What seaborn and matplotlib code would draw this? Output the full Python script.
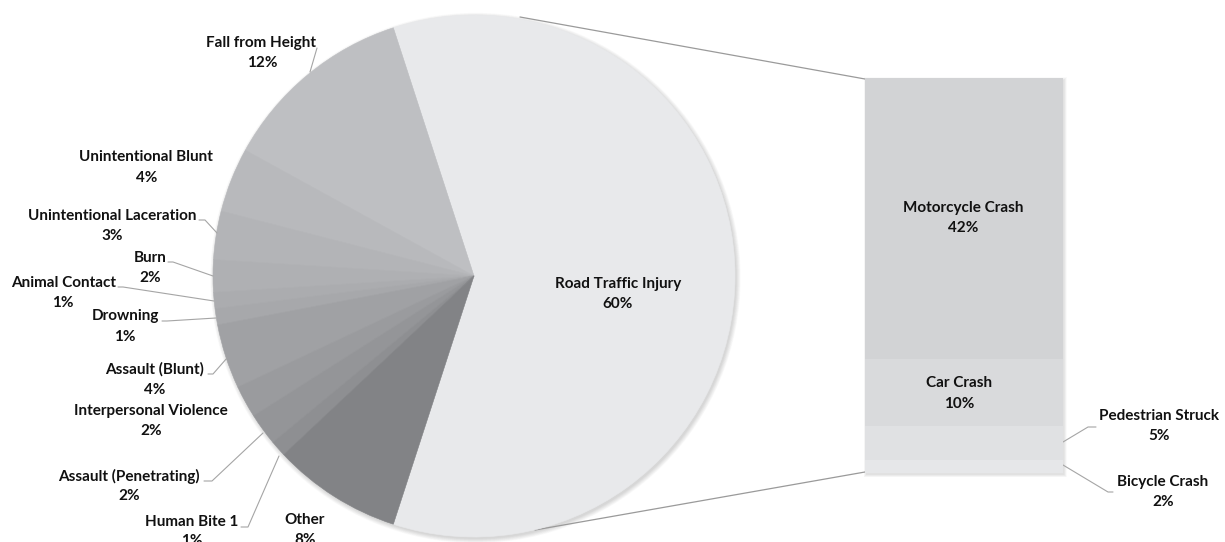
import numpy as np
import pandas as pd
import matplotlib
matplotlib.use("Agg")
import matplotlib.pyplot as plt
import seaborn as sns
from matplotlib.patches import Circle, Rectangle

# ---------------- data ----------------
pie_labels = ["Road Traffic Injury", "Fall from Height", "Unintentional Blunt",
              "Unintentional Laceration", "Burn", "Animal Contact", "Drowning",
              "Assault (Blunt)", "Interpersonal Violence", "Assault (Penetrating)",
              "Human Bite 1", "Other"]
pie_values = [60, 12, 4, 3, 2, 1, 1, 4, 2, 2, 1, 8]
pie_colors = ["#E8E9EB", "#BEBFC2", "#B8B9BC", "#B3B4B7", "#AFB0B3", "#ABACAF",
              "#A7A8AB", "#A0A1A4", "#9A9B9E", "#949598", "#8E8F92", "#828386"]

bar_labels = ["Motorcycle Crash", "Car Crash", "Pedestrian Struck", "Bicycle Crash"]
bar_values = [42, 10, 5, 2]
bar_colors = ["#D2D3D5", "#D9DADC", "#E0E1E3", "#E6E7E9"]

# ---------------- style ----------------
sns.set_theme(style="white")
plt.rcParams['font.family'] = ['Lato', 'DejaVu Sans']

W, H = 1225, 542
fig = plt.figure(figsize=(W / 100, H / 100), dpi=100)
fig.patch.set_facecolor("white")
ax = fig.add_axes([0, 0, 1, 1])


def Y(y):
    return H - y


TXT = "#111111"
LINE = "#A5A5A5"
FS = 11

# ---------------- pie ----------------
cx, cy, r = 474, 276, 261
# soft shadow
for i in range(8):
    ax.add_patch(Circle((cx + 1.5, Y(cy) - 2.0), r + 0.6 * i, color="black",
                        alpha=0.018, lw=0, zorder=0))
wedges, _ = ax.pie(pie_values, colors=pie_colors, startangle=-108, counterclock=True,
                   center=(cx, Y(cy)), radius=r,
                   wedgeprops=dict(linewidth=0.4, antialiased=True))
for w, c in zip(wedges, pie_colors):
    w.set_edgecolor(c)
    w.set_zorder(2)

ax.set_xlim(0, W)
ax.set_ylim(0, H)
ax.set_aspect("auto")
ax.axis("off")

# connector lines pie -> bar
ax.plot([520, 865], [Y(17), Y(79)], color="#9A9A9A", lw=0.9, zorder=1)
ax.plot([535, 865], [Y(530), Y(472)], color="#9A9A9A", lw=0.9, zorder=1)

# pie labels: (name_x, name_y, pct_x, pct_y)
pie_label_pos = {
    "Road Traffic Injury": (618, 284, 618, 304),
    "Fall from Height": (261, 43, 262, 63),
    "Unintentional Blunt": (146, 157, 147, 178),
    "Unintentional Laceration": (112, 216, 112, 236),
    "Burn": (150, 258, 150, 278),
    "Animal Contact": (64, 283, 63, 303),
    "Drowning": (125, 316, 125, 337),
    "Assault (Blunt)": (155, 369, 155, 390),
    "Interpersonal Violence": (151, 411, 151, 431),
    "Assault (Penetrating)": (129, 476, 129, 496),
    "Human Bite 1": (192, 522, 192, 541),
    "Other": (305, 520, 305, 540),
}
for lab, val in zip(pie_labels, pie_values):
    nx, ny, px, py = pie_label_pos[lab]
    ax.text(nx, Y(ny), lab, ha="center", va="center", fontsize=FS,
            fontweight="bold", color=TXT, zorder=5)
    ax.text(px, Y(py), f"{val}%", ha="center", va="center", fontsize=FS,
            fontweight="bold", color=TXT, zorder=5)

leaders = [
    [(317, 48), (310, 72)],
    [(199, 220), (205, 220), (217, 233)],
    [(168, 262), (173, 262), (213, 276)],
    [(118, 287), (123, 287), (214, 301)],
    [(162, 321), (167, 321), (216, 318)],
    [(208, 374), (213, 374), (227, 358)],
    [(204, 481), (212, 481), (263, 433)],
    [(241, 527), (248, 527), (279, 456)],
    [(1063, 442), (1088, 427), (1096, 427)],
    [(1063, 465), (1108, 492), (1113, 492)],
]
for pts in leaders:
    xs = [p[0] for p in pts]
    ys = [Y(p[1]) for p in pts]
    ax.plot(xs, ys, color=LINE, lw=0.8, zorder=4)

# ---------------- bar ----------------
bx0, bx1, by0, by1 = 865, 1063, 78, 473
# bar shadow
for i in range(6):
    ax.add_patch(Rectangle((bx0 - 0.5 * i + 1, Y(by1) - 0.5 * i - 1.5),
                           (bx1 - bx0) + i, (by1 - by0) + i,
                           color="black", alpha=0.02, lw=0, zorder=0))

bax = fig.add_axes([bx0 / W, (H - by1) / H, (bx1 - bx0) / W, (by1 - by0) / H])
bax.patch.set_alpha(0)
total = sum(bar_values)
bottoms = np.cumsum([0] + bar_values[::-1][:-1])[::-1]  # stack: motorcycle on top
for lab, val, bot, col in zip(bar_labels, bar_values, bottoms, bar_colors):
    df = pd.DataFrame({"seg": [lab], "v": [val]})
    sns.barplot(data=df, x=[0], y="v", bottom=bot, color=col, width=1.0,
                saturation=1, ax=bax, linewidth=0, errorbar=None)
bax.set_xlim(-0.5, 0.5)
bax.set_ylim(0, total)
bax.axis("off")

bar_label_pos = {
    "Motorcycle Crash": (963, 208, 963, 228),
    "Car Crash": (959, 383, 959, 404),
    "Pedestrian Struck": (1159, 416, 1159, 436),
    "Bicycle Crash": (1163, 482, 1163, 502),
}
for lab, val in zip(bar_labels, bar_values):
    nx, ny, px, py = bar_label_pos[lab]
    bax.text(nx, Y(ny), lab, ha="center", va="center", fontsize=FS,
             fontweight="bold", color=TXT, zorder=5, transform=ax.transData,
             clip_on=False)
    bax.text(px, Y(py), f"{val}%", ha="center", va="center", fontsize=FS,
             fontweight="bold", color=TXT, zorder=5, transform=ax.transData,
             clip_on=False)

fig.savefig("out.png", dpi=100, facecolor="white")
